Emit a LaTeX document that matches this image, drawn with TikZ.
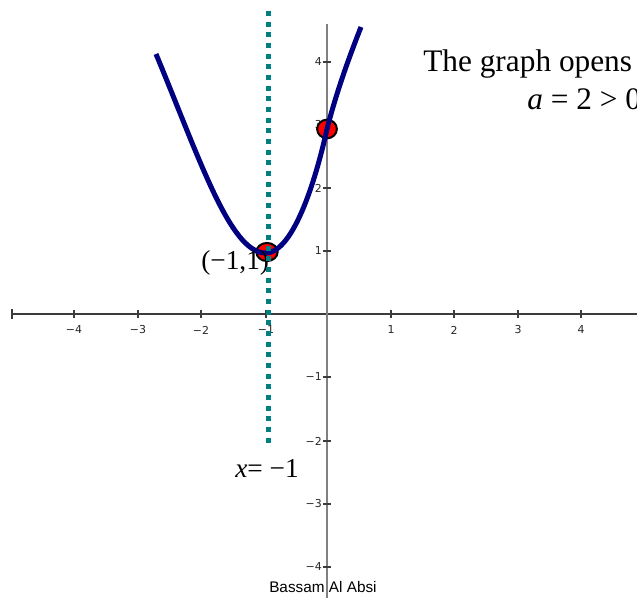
\documentclass[tikz,border=0pt]{standalone}
\usepackage{fontspec}
\setmainfont{Liberation Serif}
\newfontfamily\tickfont{DejaVu Sans}
\newfontfamily\creditfont{Liberation Sans}
\definecolor{curveblue}{RGB}{0,0,128}
\definecolor{dotteal}{RGB}{0,128,128}
\definecolor{axisgray}{RGB}{128,128,128}
\definecolor{axisdark}{RGB}{60,60,60}
\tikzset{
  ticklbl/.style={font=\tickfont\fontsize{8.2}{10}\selectfont, inner sep=0pt, text=black!85},
  bigtext/.style={font=\fontsize{23.5}{28}\selectfont, inner sep=0pt, anchor=base west},
  lbltext/.style={font=\fontsize{20.5}{24}\selectfont, inner sep=0pt, anchor=base west},
  ticklinex/.style={axisdark, line width=0.9pt},
  tickliney/.style={axisdark, line width=0.9pt},
  ptmark/.style={draw=black, fill=red, line width=1.5pt},
  parab/.style={curveblue, line width=3.75pt},
  symline/.style={dotteal, line width=3.75pt, dash pattern=on 3.75pt off 4.25pt}
}
\begin{document}
\begin{tikzpicture}[x=0.75pt,y=-0.75pt]
\useasboundingbox (0,0) rectangle (637,598);
\clip (0,0) rectangle (637,598);
% axes
\coordinate (xl) at (12,314);
\coordinate (xr) at (637,314);
\coordinate (yt) at (327,24);
\coordinate (yb) at (327,598);
\draw[axisdark, line width=1.1pt] (xl) -- (xr);
\draw[axisgray, line width=1.5pt] (yt) -- (yb);
% x ticks
\draw[ticklinex] (12,309) -- (12,319);
\foreach \xp/\lab in {74/{−4},138/{−3},201/{−2},266/{−1},391/1,454/2,518/3,581/4}{
  \draw[ticklinex] (\xp,310) -- (\xp,318);
  \node[ticklbl] (xt\xp) at (\xp,330) {\lab};
}
% y ticks
\foreach \yp/\lab in {62/4,125/3,188/2,251/1,377/{−1},441/{−2},504/{−3},567/{−4}}{
  \draw[tickliney] (323,\yp) -- (331,\yp);
  \node[ticklbl, anchor=east] (yt\yp) at (322,\yp) {\lab};
}
% points
\draw[ptmark] (267,252) ellipse [x radius=8pt, y radius=6.8pt];
\draw[ptmark] (327,129) ellipse [x radius=7.4pt, y radius=7pt];
% parabola
\draw[parab] (156,54) .. controls (200,160) and (230,252) .. (265,253)
  .. controls (295,254) and (318,170) .. (327,129)
  .. controls (337,90) and (350,55) .. (361,27);
% labels
\node[lbltext] (vlab) at (201,270) {(−1,1)};
\node[lbltext] (xlab) at (235,478) {\textit{x}= −1};
\node[bigtext] (t1) at (423,72) {The graph opens};
\node[bigtext] (t2) at (527,110) {\textit{a} = 2 > 0};
% axis of symmetry
\coordinate (st) at (268,11);
\coordinate (sb) at (268,443);
\draw[symline] (st) -- (sb);
% credit
\node[font=\creditfont\fontsize{11.5}{13}\selectfont, inner sep=0pt, anchor=base west] (credit) at (269,593) {Bassam Al Absi};
\end{tikzpicture}
\end{document}
